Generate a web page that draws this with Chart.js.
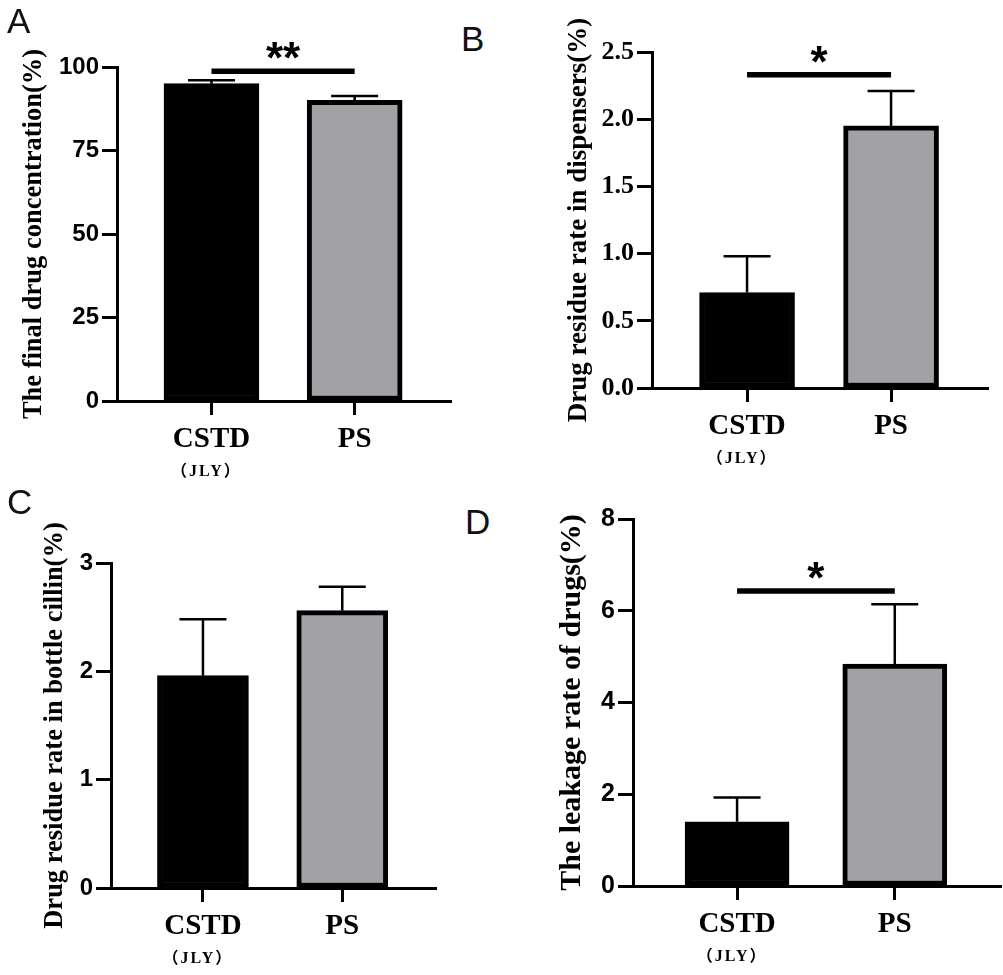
<!DOCTYPE html>
<html>
<head>
<meta charset="utf-8">
<script src="https://cdn.jsdelivr.net/npm/chart.js@4.4.1/dist/chart.umd.min.js"></script>
<style>
  html, body { margin: 0; padding: 0; background: #fff; }
  #page { position: relative; width: 1003px; height: 975px; overflow: hidden; background: #fff; }
  .panel { position: absolute; }
  .letter { position: absolute; font: 35px "Liberation Sans", Arial, sans-serif; color: #111; line-height: 1; }
</style>
</head>
<body>
<div id="page">
  <div class="panel" style="left:7px;top:0;width:445px;height:490px"><canvas id="chartA"></canvas></div>
  <div class="panel" style="left:542px;top:0;width:447px;height:490px"><canvas id="chartB"></canvas></div>
  <div class="panel" style="left:1px;top:490px;width:436px;height:485px"><canvas id="chartC"></canvas></div>
  <div class="panel" style="left:523px;top:490px;width:479px;height:485px"><canvas id="chartD"></canvas></div>
  <div class="letter" style="left:7px;top:3px">A</div>
  <div class="letter" style="left:461px;top:21px">B</div>
  <div class="letter" style="left:7px;top:484px">C</div>
  <div class="letter" style="left:465px;top:504px">D</div>
</div>
<script>
// ------------------------
// Data
// ------------------------
const groups = ["CSTD", "PS"];
const groupSub = ["（JLY）", ""];

const concMean = [95.0, 90.0];
const concErr = [1.0, 1.3];
const concTicks = [0, 25, 50, 75, 100];

const dispMean = [0.71, 1.95];
const dispErr = [0.27, 0.26];
const dispTicks = [0, 0.5, 1.0, 1.5, 2.0, 2.5];

const bottleMean = [1.96, 2.56];
const bottleErr = [0.52, 0.22];
const bottleTicks = [0, 1, 2, 3];

const leakMean = [1.40, 4.84];
const leakErr = [0.53, 1.30];
const leakTicks = [0, 2, 4, 6, 8];

// significance bars: level in axis units, label
const concSig = { level: 98.7, text: "**" };
const dispSig = { level: 2.33, text: "*" };
const leakSig = { level: 6.43, text: "*" };

const barFill = ["#000000", "#a2a2a6"];
const SANS = '"Liberation Sans", Arial, sans-serif';
const SERIF = '"Liberation Serif", "Times New Roman", serif';

// ------------------------
// Plugins
// ------------------------
const errorBars = {
    id: "errorBars",
    afterDatasetsDraw(chart, args, opts) {
        const ctx = chart.ctx;
        const y = chart.scales.y;
        const meta = chart.getDatasetMeta(0);
        const pts = chart.data.datasets[0].data;
        ctx.save();
        ctx.strokeStyle = "#000";
        ctx.lineWidth = 2.5;
        meta.data.forEach((bar, i) => {
            const top = y.getPixelForValue(pts[i].y + opts.values[i]);
            ctx.beginPath();
            ctx.moveTo(bar.x, bar.y);
            ctx.lineTo(bar.x, top);
            ctx.moveTo(bar.x - 23.5, top);
            ctx.lineTo(bar.x + 23.5, top);
            ctx.stroke();
        });
        ctx.restore();
    }
};

const sigBar = {
    id: "sigBar",
    afterDraw(chart, args, opts) {
        if (!opts || !opts.text) return;
        const ctx = chart.ctx;
        const x = chart.scales.x, y = chart.scales.y;
        const x0 = x.getPixelForValue(0), x1 = x.getPixelForValue(1);
        const ly = y.getPixelForValue(opts.level);
        ctx.save();
        ctx.strokeStyle = "#000";
        ctx.lineWidth = 5.5;
        ctx.beginPath();
        ctx.moveTo(x0, ly);
        ctx.lineTo(x1, ly);
        ctx.stroke();
        ctx.fillStyle = "#000";
        ctx.font = "bold 44px " + SANS;
        ctx.textAlign = "center";
        ctx.textBaseline = "alphabetic";
        ctx.fillText(opts.text, (x0 + x1) / 2, ly + 2);
        ctx.restore();
    }
};

const subLabels = {
    id: "subLabels",
    afterDraw(chart) {
        const ctx = chart.ctx;
        const x = chart.scales.x;
        ctx.save();
        ctx.fillStyle = "#000";
        ctx.font = 'bold 16px "Liberation Serif", "Noto Sans CJK SC", serif';
        ctx.letterSpacing = "2px";
        ctx.textAlign = "center";
        ctx.textBaseline = "middle";
        groupSub.forEach((s, i) => {
            if (s) ctx.fillText(s, x.getPixelForValue(i) - 5, chart.chartArea.bottom + 71);
        });
        ctx.restore();
    }
};

// ------------------------
// Panel builder
// ------------------------
function buildPanel(id, p) {
    const axisLine = { color: "#000", width: 3 };
    return new Chart(document.getElementById(id), {
        type: "bar",
        data: {
            datasets: [{
                data: p.means.map((m, i) => ({ x: i, y: m })),
                backgroundColor: barFill,
                borderColor: "#000",
                borderWidth: 5,
                borderSkipped: false,
                barThickness: p.barWidth
            }]
        },
        options: {
            responsive: true,
            maintainAspectRatio: false,
            animation: false,
            layout: { padding: { top: p.padTop, left: 0, right: 0, bottom: 0 } },
            plugins: {
                legend: { display: false },
                tooltip: { enabled: false },
                errorBars: { values: p.errors },
                sigBar: p.sig || {}
            },
            scales: {
                x: {
                    type: "linear",
                    min: -0.66,
                    max: 1.68,
                    offset: false,
                    afterBuildTicks: s => { s.ticks = groups.map((g, i) => ({ value: i })); },
                    afterFit: s => { s.height = p.xHeight; },
                    ticks: {
                        callback: v => groups[v],
                        font: { family: SERIF, size: 29, weight: "bold" },
                        color: "#000",
                        padding: 7,
                        maxRotation: 0,
                        autoSkip: false
                    },
                    grid: { offset: false, drawOnChartArea: false, drawTicks: true, tickLength: 14, tickWidth: 3, color: "#000", tickColor: "#000" },
                    border: axisLine
                },
                y: {
                    min: 0,
                    max: p.ticks[p.ticks.length - 1],
                    afterBuildTicks: s => { s.ticks = p.ticks.map(v => ({ value: v })); },
                    afterFit: s => { s.width = 110; },
                    ticks: {
                        callback: p.tickFmt,
                        font: p.tickFont,
                        color: "#000",
                        padding: 3
                    },
                    grid: { drawOnChartArea: false, drawTicks: true, tickLength: 15, tickWidth: 3, color: "#000", tickColor: "#000" },
                    border: axisLine,
                    title: {
                        display: true,
                        text: p.title,
                        color: "#000",
                        font: { family: SERIF, size: p.titleSize, weight: "bold", lineHeight: 1.2 },
                        padding: { top: p.titlePad, bottom: 0 }
                    }
                }
            }
        },
        plugins: [errorBars, sigBar, subLabels]
    });
}

buildPanel("chartA", {
    means: concMean, errors: concErr, ticks: concTicks, sig: concSig,
    tickFmt: v => String(v),
    tickFont: { family: SANS, size: 24, weight: "bold" },
    title: "The final drug concentration(%)", titleSize: 26.5, titlePad: 11.5,
    padTop: 67, xHeight: 89, barWidth: 95
});

buildPanel("chartB", {
    means: dispMean, errors: dispErr, ticks: dispTicks, sig: dispSig,
    tickFmt: v => v.toFixed(1),
    tickFont: { family: SERIF, size: 26, weight: "bold" },
    title: "Drug residue rate in dispensers(%)", titleSize: 27, titlePad: 21,
    padTop: 52, xHeight: 102, barWidth: 95
});

buildPanel("chartC", {
    means: bottleMean, errors: bottleErr, ticks: bottleTicks, sig: null,
    tickFmt: v => String(v),
    tickFont: { family: SANS, size: 24, weight: "bold" },
    title: "Drug residue rate in bottle cillin(%)", titleSize: 26.5, titlePad: 38.5,
    padTop: 73, xHeight: 87, barWidth: 91
});

buildPanel("chartD", {
    means: leakMean, errors: leakErr, ticks: leakTicks, sig: leakSig,
    tickFmt: v => String(v),
    tickFont: { family: SANS, size: 25, weight: "bold" },
    title: "The leakage rate of drugs(%)", titleSize: 30, titlePad: 31,
    padTop: 29, xHeight: 89, barWidth: 104
});
</script>
</body>
</html>
